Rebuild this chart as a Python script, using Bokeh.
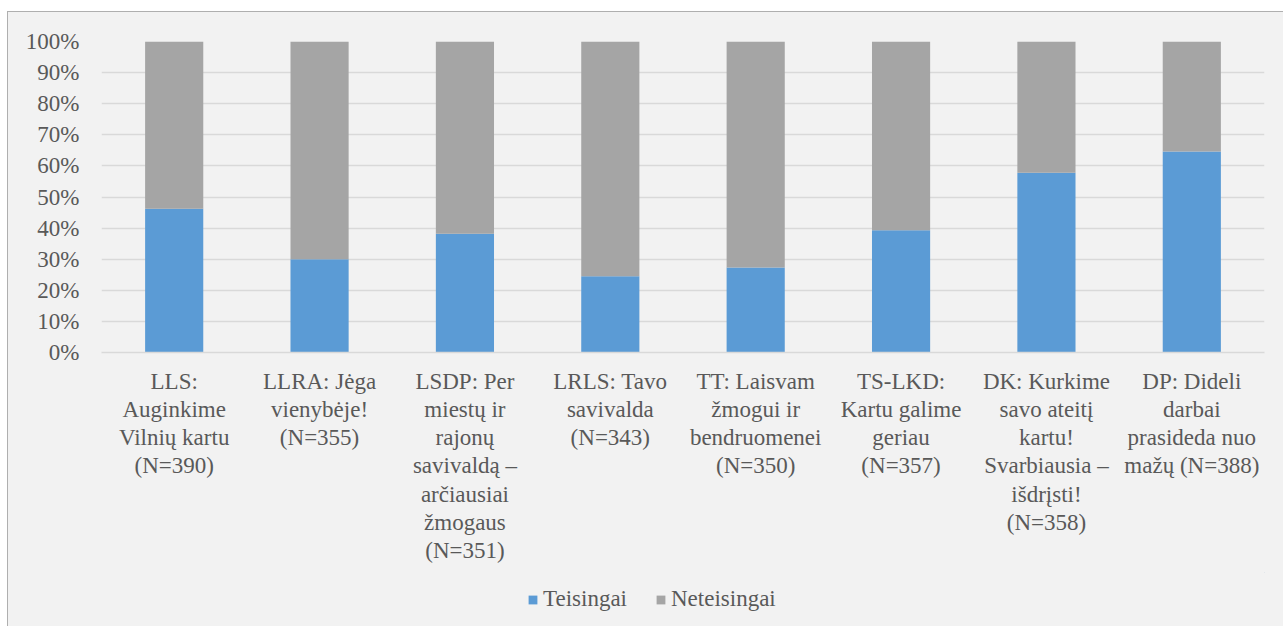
from bokeh.plotting import figure
from bokeh.layouts import column
from bokeh.models import (ColumnDataSource, FactorRange, Range1d, FixedTicker,
                          PrintfTickFormatter, Legend, LegendItem)
from bokeh.embed import file_html
from bokeh.resources import INLINE

labels = [
    "LLS:\nAuginkime\nVilnių kartu\n(N=390)",
    "LLRA: Jėga\nvienybėje!\n(N=355)",
    "LSDP: Per\nmiestų ir\nrajonų\nsavivaldą –\narčiausiai\nžmogaus\n(N=351)",
    "LRLS: Tavo\nsavivalda\n(N=343)",
    "TT: Laisvam\nžmogui ir\nbendruomenei\n(N=350)",
    "TS-LKD:\nKartu galime\ngeriau\n(N=357)",
    "DK: Kurkime\nsavo ateitį\nkartu!\nSvarbiausia –\nišdrįsti!\n(N=358)",
    "DP: Dideli\ndarbai\nprasideda nuo\nmažų (N=388)",
]
teisingai = [46.2, 30.0, 38.2, 24.5, 27.3, 39.3, 57.8, 64.6]
neteisingai = [53.8, 70.0, 61.8, 75.5, 72.7, 60.7, 42.2, 35.4]
series_names = ["Teisingai", "Neteisingai"]
y_ticks = [0, 10, 20, 30, 40, 50, 60, 70, 80, 90, 100]

FONT = "Liberation Serif"
FS = "23px"
TXT = "#595959"
BG = "#F2F2F2"
BLUE = "#5B9BD5"
GRAY = "#A5A5A5"
W = 1275

source = ColumnDataSource(data=dict(cat=labels, Teisingai=teisingai, Neteisingai=neteisingai))

p = figure(x_range=FactorRange(*labels), y_range=Range1d(0, 100),
           width=W, height=560, output_backend="svg", toolbar_location=None,
           background_fill_color=BG, border_fill_color=BG,
           min_border_left=93, min_border_right=19, min_border_top=29, min_border_bottom=220)

rs = p.vbar_stack(series_names, x="cat", width=0.4, source=source,
                  color=[BLUE, GRAY], line_color=None)

p.outline_line_color = None
p.xgrid.grid_line_color = None
p.ygrid.grid_line_color = "#D9D9D9"
p.ygrid.grid_line_width = 1.3
p.yaxis.ticker = FixedTicker(ticks=y_ticks)
p.yaxis.formatter = PrintfTickFormatter(format="%d%%")
p.yaxis.axis_line_color = None
p.yaxis.major_tick_line_color = None
p.yaxis.minor_tick_line_color = None
p.yaxis.major_label_standoff = 16
p.yaxis.major_label_text_font = FONT
p.yaxis.major_label_text_font_size = FS
p.yaxis.major_label_text_color = TXT

p.xaxis.axis_line_color = "#D9D9D9"
p.xaxis.axis_line_width = 1.3
p.xaxis.major_tick_line_color = None
p.xaxis.minor_tick_line_color = None
p.xaxis.major_label_standoff = 10
p.xaxis.major_label_text_font = FONT
p.xaxis.major_label_text_font_size = FS
p.xaxis.major_label_text_color = TXT
p.xaxis.major_label_text_line_height = 1.13

# legend strip below the chart (its frame is aligned with the chart frame)
lf = figure(width=W, height=54, output_backend="svg", toolbar_location=None,
            x_range=Range1d(0, 1), y_range=Range1d(0, 1),
            x_axis_type=None, y_axis_type=None,
            background_fill_color=BG, border_fill_color=BG, min_border=0)
lf.outline_line_color = None
lf.xgrid.grid_line_color = None
lf.ygrid.grid_line_color = None
offview = ColumnDataSource(data=dict(x=[5], top=[5]))
r1 = lf.vbar(x="x", top="top", bottom=4, width=0.1, source=offview, color=BLUE, line_color=None)
r2 = lf.vbar(x="x", top="top", bottom=4, width=0.1, source=offview, color=GRAY, line_color=None)
legend = Legend(items=[LegendItem(label=series_names[0], renderers=[r1]),
                       LegendItem(label=series_names[1], renderers=[r2])],
                orientation="horizontal", location=(426, 14),
                background_fill_alpha=0, border_line_color=None,
                label_text_font=FONT, label_text_font_size=FS, label_text_color=TXT,
                glyph_width=11, glyph_height=11, label_standoff=5, spacing=28,
                margin=0, padding=0)
lf.add_layout(legend, "center")

layout = column(p, lf, spacing=0, margin=(11, 0, 0, 7),
                styles={"border-top": "1px solid #AFAFAF", "border-left": "1px solid #AFAFAF",
                        "background-color": BG})

open("out.html", "w").write(file_html(layout, INLINE))
